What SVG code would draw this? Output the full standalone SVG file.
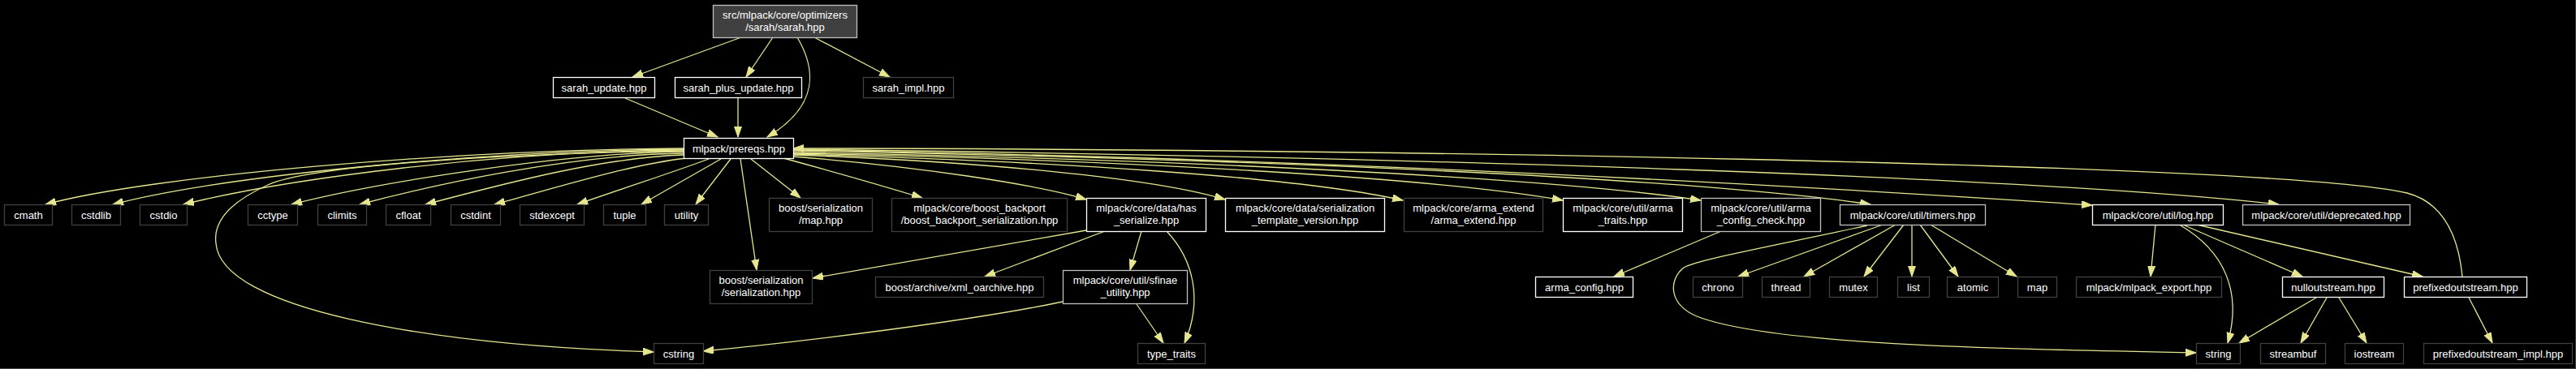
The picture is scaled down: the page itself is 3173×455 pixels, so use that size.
<svg xmlns="http://www.w3.org/2000/svg" width="3173" height="455" viewBox="0 0 3173 455">
<style>
rect{fill:#000;stroke:#fff;stroke-width:1.3}
.x rect{stroke:#404040}
.g rect{stroke:#bfbfbf}
.r rect{fill:#404040;stroke:#bfbfbf}
text{fill:#fff;font-family:"Liberation Sans",Arial,sans-serif;font-size:13px;text-anchor:middle}
#edges path{fill:none;stroke:#e6e68f;stroke-width:1.3;marker-end:url(#a)}
</style>
<defs>
<marker id="a" markerUnits="userSpaceOnUse" markerWidth="14" markerHeight="10" refX="13" refY="4.5" orient="auto"><path d="M0,0 L13,4.5 L0,9 z" fill="#e6e68f" stroke="#e6e68f" stroke-width="1"/></marker>
</defs>
<rect x="0" y="0" width="3173" height="455" style="fill:#000;stroke:none"/>
<path d="M3172.5,0 V454.5 H0" fill="none" stroke="#444" stroke-width="1"/>
<g id="edges">
<path d="M913,46 L779,95"/>
<path d="M952,46 L919,95"/>
<path d="M1003,46 L1096,95"/>
<path d="M982,46 C1005,85 1010,130 945,169"/>
<path d="M770,121 L884,169"/>
<path d="M909,121 L909,169"/>
<path d="M842,183 C550,185 186,217 56,252"/>
<path d="M842,184 C580,186 270,218 139,252"/>
<path d="M842,185 C610,187 355,220 226,252"/>
<path d="M842,187 C700,188 469,224 359,252"/>
<path d="M842,189 C700,191 538,227 443,252"/>
<path d="M842,191 C740,194 612,229 524,252"/>
<path d="M846,195 C780,202 690,230 609,252"/>
<path d="M873,196 C830,212 780,228 711,252"/>
<path d="M888,196 L790,252"/>
<path d="M900,196 L857,252"/>
<path d="M912,196 L932,333"/>
<path d="M925,196 L986,244"/>
<path d="M842,186 C600,190 380,205 330,228 C290,246 262,270 266,300 C272,380 520,425 805,434"/>
<path d="M965,195 C1020,210 1090,230 1136,244"/>
<path d="M977,193 C1130,205 1280,228 1338,246"/>
<path d="M977,191 C1205,199 1420,219 1509,246"/>
<path d="M977,190 C1300,199 1600,218 1728,247"/>
<path d="M977,189 C1380,197 1770,219 1925,247"/>
<path d="M977,188 C1450,196 1910,219 2095,247"/>
<path d="M977,186 C1548,196 2078,219 2304,252"/>
<path d="M977,185 C1665,195 2305,235 2577,253"/>
<path d="M977,184 C1764,194 2496,218 2807,252"/>
<path d="M3033,341 C3028,290 3010,250 2965,238 C2800,200 1600,183 977,183"/>
<path d="M1338,284 L1001,343"/>
<path d="M1361,285 L1213,341"/>
<path d="M1406,285 L1392,333"/>
<path d="M1437,285 C1470,320 1482,370 1459,423"/>
<path d="M1309,372 C1200,395 1000,420 866,433"/>
<path d="M1400,375 L1433,423"/>
<path d="M2120,285 L1988,341"/>
<path d="M2300,278 C2200,300 2090,320 2074,330 C2055,345 2055,375 2090,390 C2180,425 2450,430 2705,435"/>
<path d="M2319,277 L2141,341"/>
<path d="M2335,277 L2222,341"/>
<path d="M2345,277 L2296,341"/>
<path d="M2355,277 L2355,341"/>
<path d="M2365,277 L2412,341"/>
<path d="M2378,277 L2484,341"/>
<path d="M2655,277 L2649,341"/>
<path d="M2686,278 C2740,310 2762,360 2744,423"/>
<path d="M2691,278 L2836,341"/>
<path d="M2706,277 L2984,341"/>
<path d="M2853,367 L2758,423"/>
<path d="M2866,367 L2834,423"/>
<path d="M2881,367 L2915,423"/>
<path d="M3041,367 L3070,423"/>
</g>
<g id="root" class="r"><rect x="878.5" y="6.5" width="177" height="40"/><text x="967" y="23">src/mlpack/core/optimizers</text><text x="967" y="37.5">/sarah/sarah.hpp</text></g>
<g id="sarah_update"><rect x="681.5" y="95.5" width="125" height="25"/><text x="744" y="112.5">sarah_update.hpp</text></g>
<g id="sarah_plus_update"><rect x="831.5" y="95.5" width="156" height="25"/><text x="909.5" y="112.5">sarah_plus_update.hpp</text></g>
<g id="sarah_impl" class="x"><rect x="1063.5" y="95.5" width="111" height="25"/><text x="1119" y="112.5">sarah_impl.hpp</text></g>
<g id="prereqs"><rect x="842.5" y="170.5" width="135" height="25"/><text x="910" y="187.5">mlpack/prereqs.hpp</text></g>
<g id="cmath" class="x"><rect x="5.5" y="252.5" width="59" height="25"/><text x="35" y="269.5">cmath</text></g>
<g id="cstdlib" class="x"><rect x="88.5" y="252.5" width="60" height="25"/><text x="118.5" y="269.5">cstdlib</text></g>
<g id="cstdio" class="x"><rect x="172.5" y="252.5" width="58" height="25"/><text x="201.5" y="269.5">cstdio</text></g>
<g id="cctype" class="x"><rect x="305.5" y="252.5" width="61" height="25"/><text x="336" y="269.5">cctype</text></g>
<g id="climits" class="x"><rect x="391.5" y="252.5" width="60" height="25"/><text x="421.5" y="269.5">climits</text></g>
<g id="cfloat" class="x"><rect x="475.5" y="252.5" width="55" height="25"/><text x="503" y="269.5">cfloat</text></g>
<g id="cstdint" class="x"><rect x="555.5" y="252.5" width="61" height="25"/><text x="586" y="269.5">cstdint</text></g>
<g id="stdexcept" class="x"><rect x="640.5" y="252.5" width="79" height="25"/><text x="680" y="269.5">stdexcept</text></g>
<g id="tuple" class="x"><rect x="743.5" y="252.5" width="52" height="25"/><text x="769.5" y="269.5">tuple</text></g>
<g id="utility" class="x"><rect x="818.5" y="252.5" width="54" height="25"/><text x="845.5" y="269.5">utility</text></g>
<g id="boost_map" class="x"><rect x="947.5" y="244.5" width="127" height="41"/><text x="1011" y="261">boost/serialization</text><text x="1011" y="275.5">/map.hpp</text></g>
<g id="boost_backport" class="x"><rect x="1098.5" y="244.5" width="216" height="41"/><text x="1206.5" y="261">mlpack/core/boost_backport</text><text x="1206.5" y="275.5">/boost_backport_serialization.hpp</text></g>
<g id="has_serialize"><rect x="1338.5" y="244.5" width="147" height="41"/><text x="1412" y="261">mlpack/core/data/has</text><text x="1412" y="275.5">_serialize.hpp</text></g>
<g id="template_version"><rect x="1509.5" y="244.5" width="196" height="41"/><text x="1607.5" y="261">mlpack/core/data/serialization</text><text x="1607.5" y="275.5">_template_version.hpp</text></g>
<g id="arma_extend" class="x"><rect x="1729.5" y="244.5" width="171" height="41"/><text x="1815" y="261">mlpack/core/arma_extend</text><text x="1815" y="275.5">/arma_extend.hpp</text></g>
<g id="arma_traits"><rect x="1925.5" y="244.5" width="147" height="41"/><text x="1999" y="261">mlpack/core/util/arma</text><text x="1999" y="275.5">_traits.hpp</text></g>
<g id="arma_config_check" class="g"><rect x="2095.5" y="244.5" width="147" height="41"/><text x="2169" y="261">mlpack/core/util/arma</text><text x="2169" y="275.5">_config_check.hpp</text></g>
<g id="timers" class="g"><rect x="2266.5" y="252.5" width="179" height="25"/><text x="2356" y="269.5">mlpack/core/util/timers.hpp</text></g>
<g id="log"><rect x="2577.5" y="252.5" width="161" height="25"/><text x="2658" y="269.5">mlpack/core/util/log.hpp</text></g>
<g id="deprecated" class="g"><rect x="2762.5" y="252.5" width="206" height="25"/><text x="2865.5" y="269.5">mlpack/core/util/deprecated.hpp</text></g>
<g id="serialization" class="x"><rect x="874.5" y="333.5" width="126" height="41"/><text x="937.5" y="350">boost/serialization</text><text x="937.5" y="364.5">/serialization.hpp</text></g>
<g id="xml_oarchive" class="x"><rect x="1078.5" y="341.5" width="207" height="25"/><text x="1182" y="358.5">boost/archive/xml_oarchive.hpp</text></g>
<g id="sfinae" class="g"><rect x="1309.5" y="333.5" width="153" height="41"/><text x="1386" y="350">mlpack/core/util/sfinae</text><text x="1386" y="364.5">_utility.hpp</text></g>
<g id="arma_config"><rect x="1891.5" y="341.5" width="120" height="25"/><text x="1951.5" y="358.5">arma_config.hpp</text></g>
<g id="chrono" class="x"><rect x="2085.5" y="341.5" width="61" height="25"/><text x="2116" y="358.5">chrono</text></g>
<g id="thread" class="x"><rect x="2170.5" y="341.5" width="59" height="25"/><text x="2200" y="358.5">thread</text></g>
<g id="mutex" class="x"><rect x="2253.5" y="341.5" width="59" height="25"/><text x="2283" y="358.5">mutex</text></g>
<g id="list" class="x"><rect x="2337.5" y="341.5" width="39" height="25"/><text x="2357" y="358.5">list</text></g>
<g id="atomic" class="x"><rect x="2398.5" y="341.5" width="63" height="25"/><text x="2430" y="358.5">atomic</text></g>
<g id="map" class="x"><rect x="2485.5" y="341.5" width="48" height="25"/><text x="2509.5" y="358.5">map</text></g>
<g id="mlpack_export" class="x"><rect x="2557.5" y="341.5" width="179" height="25"/><text x="2647" y="358.5">mlpack/mlpack_export.hpp</text></g>
<g id="nulloutstream"><rect x="2811.5" y="341.5" width="125" height="25"/><text x="2874" y="358.5">nulloutstream.hpp</text></g>
<g id="prefixedoutstream"><rect x="2961.5" y="341.5" width="151" height="25"/><text x="3037" y="358.5">prefixedoutstream.hpp</text></g>
<g id="cstring" class="x"><rect x="805.5" y="423.5" width="61" height="25"/><text x="836" y="440.5">cstring</text></g>
<g id="type_traits" class="x"><rect x="1401.5" y="423.5" width="83" height="25"/><text x="1443" y="440.5">type_traits</text></g>
<g id="string" class="x"><rect x="2705.5" y="423.5" width="54" height="25"/><text x="2732.5" y="440.5">string</text></g>
<g id="streambuf" class="x"><rect x="2784.5" y="423.5" width="80" height="25"/><text x="2824.5" y="440.5">streambuf</text></g>
<g id="iostream" class="x"><rect x="2888.5" y="423.5" width="72" height="25"/><text x="2924.5" y="440.5">iostream</text></g>
<g id="prefixedoutstream_impl" class="x"><rect x="2985.5" y="423.5" width="183" height="25"/><text x="3077" y="440.5">prefixedoutstream_impl.hpp</text></g>
</svg>
